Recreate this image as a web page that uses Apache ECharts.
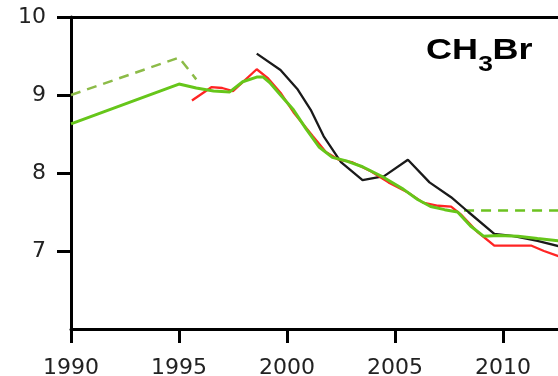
<!DOCTYPE html>
<html>
<head>
<meta charset="utf-8">
<script src="https://cdn.jsdelivr.net/npm/echarts@6/dist/echarts.min.js"></script>
<style>
  html, body { margin: 0; padding: 0; background: #fff; }
  #chart { width: 558px; height: 376px; }
</style>
</head>
<body>
<div id="chart"></div>
<script>
// tick labels
const xTicks = [1990, 1995, 2000, 2005, 2010]
const yTicks = [7, 8, 9, 10]

// black series
const blackLine = [
  [1998.6, 9.53], [1999.7, 9.32], [2000.5, 9.07], [2001.1, 8.81], [2001.7, 8.47],
  [2002.5, 8.14], [2003.5, 7.91], [2004.5, 7.96], [2005.6, 8.17], [2006.6, 7.88],
  [2007.6, 7.69], [2008.4, 7.5], [2009.6, 7.22], [2010.5, 7.19], [2011.6, 7.13],
  [2012.6, 7.06]
]

// red series
const redLine = [
  [1995.6, 8.93], [1996.5, 9.1], [1997.0, 9.09], [1997.5, 9.05], [1998.6, 9.33],
  [1999.1, 9.22], [1999.7, 9.03], [2000.3, 8.78], [2001.2, 8.47], [2001.8, 8.27],
  [2002.4, 8.17], [2003.0, 8.14], [2003.9, 8.02], [2004.7, 7.88], [2005.6, 7.75],
  [2006.3, 7.62], [2007.0, 7.58], [2007.6, 7.57], [2008.05, 7.47], [2008.8, 7.25],
  [2009.6, 7.07], [2010.4, 7.07], [2011.3, 7.07], [2011.9, 7.0], [2012.6, 6.93]
]

// green solid series
const greenLine = [
  [1990, 8.63], [1995.0, 9.14], [1995.8, 9.09], [1996.6, 9.05], [1997.35, 9.04],
  [1997.95, 9.17], [1998.6, 9.23], [1998.9, 9.23], [1999.2, 9.16], [1999.7, 9.0],
  [2000.3, 8.81], [2000.9, 8.56], [2001.5, 8.33], [2002.1, 8.2], [2002.8, 8.15],
  [2003.5, 8.08], [2004.5, 7.94], [2005.4, 7.79], [2006.05, 7.66], [2006.65, 7.57],
  [2007.3, 7.53], [2007.9, 7.5], [2008.5, 7.32], [2009.1, 7.19], [2009.8, 7.2],
  [2010.7, 7.19], [2011.6, 7.16], [2012.6, 7.13]
]

// green dashed segments
const dashEarly = [[1990, 9.0], [1995.0, 9.48], [1995.8, 9.2]]
const dashLate = [[2008.2, 7.52], [2012.6, 7.52]]

const chart = echarts.init(document.getElementById('chart'))

const tickFont = { color: '#222', fontFamily: 'DejaVu Sans', fontSize: 22, formatter: v => String(v) }

const lineSeries = (data, color, width, type, z) => ({
  type: 'line',
  data: data,
  showSymbol: false,
  symbol: 'none',
  z: z,
  lineStyle: { color: color, width: width, type: type },
  animation: false
})

chart.setOption({
  animation: false,
  grid: { left: 71, right: 0, top: 17, bottom: 47, containLabel: false, outerBoundsMode: 'none' },
  xAxis: [{
    type: 'value',
    min: 1990,
    max: 2012.55,
    interval: 5,
    position: 'bottom',
    axisLine: { show: true, onZero: false, lineStyle: { color: '#000', width: 3 } },
    axisTick: { show: true, length: 14, lineStyle: { color: '#000', width: 3 }, customValues: xTicks },
    axisLabel: Object.assign({ margin: 28, customValues: xTicks }, tickFont),
    splitLine: { show: false }
  }, {
    type: 'value',
    min: 1990,
    max: 2012.55,
    position: 'top',
    axisLine: { show: true, lineStyle: { color: '#000', width: 3 } },
    axisTick: { show: false },
    axisLabel: { show: false },
    splitLine: { show: false }
  }],
  yAxis: {
    type: 'value',
    min: 6,
    max: 10,
    interval: 1,
    axisLine: { show: true, onZero: false, lineStyle: { color: '#000', width: 3 } },
    axisTick: { show: true, length: 14, lineStyle: { color: '#000', width: 3 }, customValues: yTicks },
    axisLabel: Object.assign({ margin: 25, customValues: yTicks }, tickFont),
    splitLine: { show: false }
  },
  series: [
    lineSeries(dashEarly, '#8cbb48', 2.5, [10, 7], 2),
    lineSeries(dashLate, '#6cc220', 2.5, [10, 7], 2),
    lineSeries(blackLine, '#1a1a1a', 2.3, 'solid', 3),
    lineSeries(redLine, '#ff2424', 2.3, 'solid', 4),
    lineSeries(greenLine, '#66c61a', 3, 'solid', 5)
  ],
  graphic: [{
    type: 'group',
    x: 426,
    y: 51,
    scaleX: 1.2,
    children: [{
      type: 'text',
      x: 0,
      y: 0,
      style: { text: 'CH', fontFamily: 'Liberation Sans', fontWeight: 'bold', fontSize: 30, fill: '#000', verticalAlign: 'middle' }
    }, {
      type: 'text',
      x: 43.5,
      y: 14,
      style: { text: '3', fontFamily: 'Liberation Sans', fontWeight: 'bold', fontSize: 22, fill: '#000', verticalAlign: 'middle' }
    }, {
      type: 'text',
      x: 55.5,
      y: 0,
      style: { text: 'Br', fontFamily: 'Liberation Sans', fontWeight: 'bold', fontSize: 30, fill: '#000', verticalAlign: 'middle' }
    }]
  }]
})
</script>
</body>
</html>
